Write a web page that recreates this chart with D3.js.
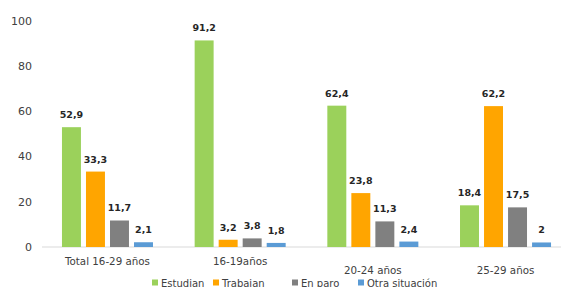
<!DOCTYPE html>
<html>
<head>
<meta charset="utf-8">
<script src="https://cdn.jsdelivr.net/npm/d3@7"></script>
<style>
  body { margin: 0; background: #fff; }
  svg text { font-family: "DejaVu Sans", Verdana, sans-serif; }
</style>
</head>
<body>
<div id="chart"></div>
<script>
var groups = ["Total 16-29 años", "16-19años", "20-24 años", "25-29 años"];
var seriesNames = ["Estudian", "Trabajan", "En paro", "Otra situación"];
var estudian = [52.9, 91.2, 62.4, 18.4];
var trabajan = [33.3, 3.2, 23.8, 62.2];
var enParo = [11.7, 3.8, 11.3, 17.5];
var otra = [2.1, 1.8, 2.4, 2];
var yTicks = [0, 20, 40, 60, 80, 100];

var colors = ["#9BD15B", "#FFA500", "#808080", "#5B9BD5"];
var series = [estudian, trabajan, enParo, otra];

var width = 561, height = 287;

var svg = d3.select("#chart").append("svg")
    .attr("width", width)
    .attr("height", height);

var y = d3.scaleLinear().domain([0, 100]).range([247, 20.5]);

var x0 = d3.scaleBand().domain(groups).range([41, 572]).paddingInner(0.314).paddingOuter(0.158);
var x1 = d3.scaleBand().domain(seriesNames).range([0, x0.bandwidth()]).paddingInner(0.21);

// y tick labels (no axis line)
var yAxis = d3.axisLeft(y).tickValues(yTicks).tickSize(0).tickPadding(0);
var gy = svg.append("g").attr("transform", "translate(32,0)").call(yAxis);
gy.select(".domain").remove();
gy.selectAll("text")
    .attr("font-size", 11)
    .attr("fill", "#404040");

// baseline
svg.append("line")
    .attr("x1", 42).attr("x2", 561)
    .attr("y1", y(0)).attr("y2", y(0))
    .attr("stroke", "#d9d9d9")
    .attr("stroke-width", 1);

var g = svg.selectAll("g.grp")
    .data(groups)
    .enter().append("g")
    .attr("class", "grp")
    .attr("transform", function(d) { return "translate(" + x0(d) + ",0)"; });

g.selectAll("rect")
    .data(function(d, i) { return seriesNames.map(function(s, j) { return {s: s, v: series[j][i], j: j}; }); })
    .enter().append("rect")
    .attr("x", function(d) { return x1(d.s); })
    .attr("y", function(d) { return y(d.v); })
    .attr("width", x1.bandwidth())
    .attr("height", function(d) { return y(0) - y(d.v); })
    .attr("fill", function(d) { return colors[d.j]; });

g.selectAll("text.val")
    .data(function(d, i) { return seriesNames.map(function(s, j) { return {s: s, v: series[j][i], j: j}; }); })
    .enter().append("text")
    .attr("class", "val")
    .attr("x", function(d) { return x1(d.s) + x1.bandwidth() / 2; })
    .attr("y", function(d) { return y(d.v) - 9; })
    .attr("text-anchor", "middle")
    .attr("font-size", 9.5)
    .attr("font-weight", "bold")
    .attr("fill", "#262626")
    .text(function(d) { return String(d.v).replace(".", ","); });

// category labels (staggered like the original)
svg.selectAll("text.cat")
    .data(groups)
    .enter().append("text")
    .attr("class", "cat")
    .attr("x", function(d) { return x0(d) + x0.bandwidth() / 2; })
    .attr("y", function(d, i) { return i < 2 ? 265 : 274; })
    .attr("text-anchor", "middle")
    .attr("font-size", 10.3)
    .attr("fill", "#404040")
    .text(function(d) { return d; });

// legend
var legX = [152, 213, 292, 358];
var leg = svg.selectAll("g.leg")
    .data(seriesNames)
    .enter().append("g")
    .attr("class", "leg")
    .attr("transform", function(d, i) { return "translate(" + legX[i] + ",279.5)"; });
leg.append("rect")
    .attr("width", 6).attr("height", 6)
    .attr("fill", function(d, i) { return colors[i]; });
leg.append("text")
    .attr("x", 9).attr("y", 7)
    .attr("font-size", 10)
    .attr("fill", "#404040")
    .text(function(d) { return d; });
</script>
</body>
</html>
